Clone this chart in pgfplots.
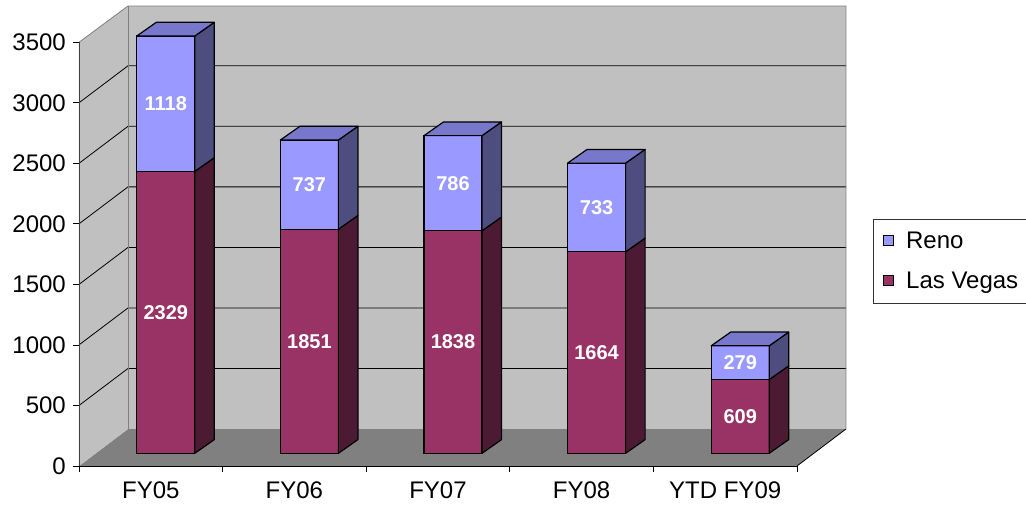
\documentclass[border=0pt]{standalone}
\usepackage{pgfplots}
\usepackage{pgfplotstable}
\usepackage{fontspec}
\setmainfont{Liberation Sans}
\pgfplotsset{compat=1.18}
\definecolor{lvfront}{RGB}{153,51,102}
\definecolor{lvside}{RGB}{77,26,51}
\definecolor{renofront}{RGB}{153,153,255}
\definecolor{renoside}{RGB}{77,77,128}
\definecolor{renotop}{RGB}{119,119,204}
\definecolor{wallc}{RGB}{192,192,192}
\definecolor{floorc}{RGB}{128,128,128}
\pgfdeclareplotmark{emptymark}{}
\pgfplotstableread{
x lv reno
0 2329 1118
1 1851 737
2 1838 786
3 1664 733
4 609 279
}\data
\begin{document}
\begin{tikzpicture}[x=1pt,y=1pt]
% floor
\fill[floorc] (0,0) -- (718,0) -- (767,37) -- (49,37) -- cycle;
\draw[black, line width=0.8pt] (718,0) -- (767,37);
% back wall and left wall
\fill[wallc] (49,37) rectangle (767,460);
\fill[wallc] (0,0) -- (49,37) -- (49,460) -- (0,423.7) -- cycle;
\foreach \v in {500,1000,...,3000}{
  \pgfmathsetmacro\yy{\v*0.121057}
  \draw[black, line width=0.8pt] (0,\yy) -- (49,{\yy+37}) -- (767,{\yy+37});
}
\draw[floorc, line width=0.8pt] (0,423.7) -- (49,460) -- (767,460) -- (767,37);
\draw[floorc, line width=0.8pt] (49,37) -- (49,460);
\begin{axis}[
  at={(0,0)}, anchor=south west,
  scale only axis, width=718pt, height=423.7pt,
  xmin=-0.5, xmax=4.5, ymin=0, ymax=3500,
  clip=false,
  axis x line=bottom, axis y line=left,
  axis line style={-},
  x axis line style={black, line width=0.8pt},
  y axis line style={black!75, line width=0.8pt},
  xtick={-0.5,0.5,1.5,2.5,3.5,4.5},
  xticklabels={},
  extra x ticks={0,1,2,3,4},
  extra x tick labels={FY05,FY06,FY07,FY08,YTD FY09},
  extra x tick style={major tick length=0pt},
  ytick={0,500,...,3500},
  tick align=outside,
  major tick length=6pt,
  tick style={black, line width=0.8pt},
  ticklabel style={font=\fontsize{24}{28}\selectfont},
  xticklabel style={inner sep=0pt, anchor=north, yshift=-16pt},
  yticklabel style={inner sep=0pt, anchor=east, xshift=-7pt},
  /pgf/number format/assume math mode=true,
  /pgf/number format/1000 sep={},
  reverse legend,
  legend cell align=left,
  legend style={at={(axis description cs:1.1058,0.5830)}, anchor=north west,
    draw=black!80, line width=0.8pt, font=\fontsize{24}{28}\selectfont,
    inner xsep=10pt, inner ysep=11pt, row sep=18pt,
    /tikz/every odd column/.append style={column sep=10pt}},
]
\addplot[ybar, stack plots=y, bar width=0.404, bar shift=0pt, xshift=15pt, yshift=12.7pt,
  fill=lvfront, draw=black, line width=1.2pt,
  legend image code/.code={\draw[fill=lvfront, draw=black, line width=0.8pt] (0pt,-17pt) rectangle (10pt,-7pt);}]
  table[x=x, y=lv]{\data};
\addlegendentry{Las Vegas}
\addplot[ybar, stack plots=y, bar width=0.404, bar shift=0pt, xshift=15pt, yshift=12.7pt,
  fill=renofront, draw=black, line width=1.2pt,
  legend image code/.code={\draw[fill=renofront, draw=black, line width=0.8pt] (0pt,-17pt) rectangle (10pt,-7pt);}]
  table[x=x, y=reno]{\data};
\addlegendentry{Reno}
% side faces and labels, Las Vegas
\addplot[forget plot, only marks, mark=emptymark, xshift=15pt, yshift=12.7pt, scatter,
  visualization depends on={\thisrow{lv} \as \h},
  scatter/@pre marker code/.code={
    \pgfmathsetmacro\mhp{-\h*0.121057}
    \pgfmathsetmacro\hh{-0.5*\h*0.121057}
    \filldraw[fill=lvside, draw=black, line width=1.2pt, line join=round]
      (29pt,0pt) -- ++(19.5pt,13.7pt) -- ++(0pt,\mhp pt) -- ++(-19.5pt,-13.7pt) -- cycle;
    \node[text=white, font=\bfseries\fontsize{20}{24}\selectfont] at (0pt,\hh pt) {\pgfmathprintnumber[fixed,precision=0,1000 sep={}]{\h}};
  },
  scatter/@post marker code/.code={}]
  table[x=x, y=lv]{\data};
% side/top faces and labels, Reno
\addplot[forget plot, only marks, mark=emptymark, xshift=15pt, yshift=12.7pt, scatter,
  visualization depends on={\thisrow{reno} \as \h},
  scatter/@pre marker code/.code={
    \pgfmathsetmacro\mhp{-\h*0.121057}
    \pgfmathsetmacro\hh{-0.5*\h*0.121057}
    \filldraw[fill=renoside, draw=black, line width=1.2pt, line join=round]
      (29pt,0pt) -- ++(19.5pt,13.7pt) -- ++(0pt,\mhp pt) -- ++(-19.5pt,-13.7pt) -- cycle;
    \filldraw[fill=renotop, draw=black, line width=1.2pt, line join=round]
      (-29pt,0pt) -- (29pt,0pt) -- ++(19.5pt,13.7pt) -- ++(-58pt,0pt) -- cycle;
    \node[text=white, font=\bfseries\fontsize{20}{24}\selectfont] at (0pt,\hh pt) {\pgfmathprintnumber[fixed,precision=0,1000 sep={}]{\h}};
  },
  scatter/@post marker code/.code={}]
  table[x=x, y expr=\thisrow{lv}+\thisrow{reno}]{\data};
\end{axis}
\pgfresetboundingbox
\path (-79,-40) rectangle (947,466);
\end{tikzpicture}
\end{document}
